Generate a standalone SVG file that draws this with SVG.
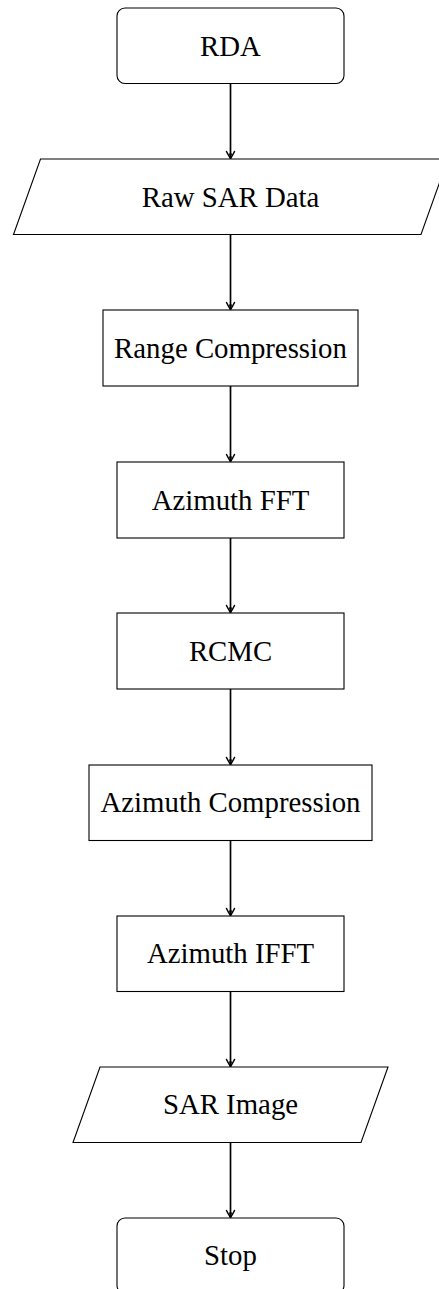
<svg xmlns="http://www.w3.org/2000/svg" width="439" height="1289" viewBox="0 0 439 1289">
<style>
.box{fill:#fff;stroke:#000;stroke-width:1.1}
.lbl{font-family:'Liberation Serif','Times New Roman','DejaVu Serif',serif;font-size:28.8px;fill:#000;text-anchor:middle}
.edge{stroke:#000;stroke-width:1.7;fill:none}
</style>
<defs>
<marker id="arr" markerUnits="userSpaceOnUse" markerWidth="12" markerHeight="12" viewBox="-10 -6 12 12" refX="0" refY="0" orient="auto">
<path d="M-7,-4 C-4,-2.6 -1.5,-1 0,0 C-1.5,1 -4,2.6 -7,4" fill="none" stroke="#000" stroke-width="1.5" stroke-linejoin="round" stroke-linecap="round"/>
<path d="M0,0 L-5,-1.6 L-5,1.6 Z" fill="#000"/>
</marker>
</defs>
<rect width="439" height="1289" fill="#fff"/>
<g id="connectors">
<line class="edge" x1="230.5" y1="83.5" x2="230.5" y2="158.5" marker-end="url(#arr)"/>
<line class="edge" x1="230.5" y1="234.5" x2="230.5" y2="309.5" marker-end="url(#arr)"/>
<line class="edge" x1="230.5" y1="386" x2="230.5" y2="461.5" marker-end="url(#arr)"/>
<line class="edge" x1="230.5" y1="538" x2="230.5" y2="612.5" marker-end="url(#arr)"/>
<line class="edge" x1="230.5" y1="689" x2="230.5" y2="764.5" marker-end="url(#arr)"/>
<line class="edge" x1="230.5" y1="840.5" x2="230.5" y2="915.5" marker-end="url(#arr)"/>
<line class="edge" x1="230.5" y1="991.5" x2="230.5" y2="1066.5" marker-end="url(#arr)"/>
<line class="edge" x1="230.5" y1="1142.5" x2="230.5" y2="1217.5" marker-end="url(#arr)"/>
</g>
<g id="rda">
<rect class="box" x="117" y="8" width="227" height="75.5" rx="8" ry="8"/>
<text class="lbl" x="230.5" y="55.5">RDA</text>
</g>
<g id="raw">
<polygon class="box" points="40.5,159 448,159 421,234.5 13.5,234.5"/>
<text class="lbl" x="230.5" y="206.5">Raw SAR Data</text>
</g>
<g id="range">
<rect class="box" x="103" y="310" width="255" height="76"/>
<text class="lbl" x="230.5" y="357.5">Range Compression</text>
</g>
<g id="azfft">
<rect class="box" x="117" y="462" width="227" height="76"/>
<text class="lbl" x="230.5" y="509.5">Azimuth FFT</text>
</g>
<g id="rcmc">
<rect class="box" x="117" y="613" width="227" height="76"/>
<text class="lbl" x="230.5" y="660.5">RCMC</text>
</g>
<g id="azcomp">
<rect class="box" x="89" y="765" width="283" height="75.5"/>
<text class="lbl" x="230.5" y="812">Azimuth Compression</text>
</g>
<g id="azifft">
<rect class="box" x="117" y="916" width="227" height="75.5"/>
<text class="lbl" x="230.5" y="963">Azimuth IFFT</text>
</g>
<g id="sarimg">
<polygon class="box" points="100,1067 388,1067 361,1142.5 73,1142.5"/>
<text class="lbl" x="230.5" y="1114">SAR Image</text>
</g>
<g id="stop">
<rect class="box" x="117" y="1218" width="227" height="75.5" rx="8" ry="8"/>
<text class="lbl" x="230.5" y="1265">Stop</text>
</g>
</svg>
